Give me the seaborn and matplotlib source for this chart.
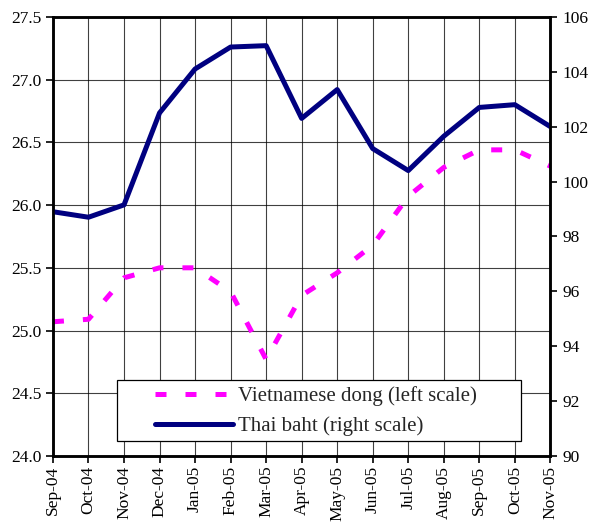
import matplotlib.pyplot as plt
import pandas as pd
import seaborn as sns
from matplotlib.patches import Rectangle

months = ['Sep-04', 'Oct-04', 'Nov-04', 'Dec-04', 'Jan-05', 'Feb-05', 'Mar-05', 'Apr-05',
          'May-05', 'Jun-05', 'Jul-05', 'Aug-05', 'Sep-05', 'Oct-05', 'Nov-05']
dong = [25.07, 25.09, 25.42, 25.50, 25.50, 25.31, 24.77, 25.28,
        25.46, 25.68, 26.07, 26.30, 26.44, 26.44, 26.31]
baht = [98.9, 98.7, 99.15, 102.5, 104.1, 104.9, 104.95, 102.3,
        103.35, 101.2, 100.4, 101.65, 102.7, 102.8, 102.0]

df = pd.DataFrame({'pos': range(len(months)), 'month': months, 'dong': dong, 'baht': baht})

sns.set_style("white")
plt.rcParams['font.family'] = ['Liberation Serif', 'DejaVu Serif']
plt.rcParams['font.size'] = 12

fig, ax = plt.subplots(figsize=(5.95, 5.26), dpi=100)
fig.subplots_adjust(left=0.089, right=0.925, top=0.968, bottom=0.133)
ax2 = ax.twinx()

sns.lineplot(data=df, x='pos', y='dong', ax=ax, color='#FF00FF', linewidth=3.6,
             dashes=False, label='Vietnamese dong (left scale)', legend=False)
ax.lines[0].set_dashes((2.2, 3.8))
sns.lineplot(data=df, x='pos', y='baht', ax=ax2, color='#000080', linewidth=3.6,
             label='Thai baht (right scale)', legend=False)

ax.set_xlim(0, len(months) - 1)
ax.set_ylim(24.0, 27.5)
ax.set_yticks([24.0 + 0.5 * i for i in range(8)])
ax.set_yticklabels([f'{24.0 + 0.5 * i:.1f}' for i in range(8)])
ax2.set_ylim(90, 106)
ax2.set_yticks(range(90, 107, 2))

ax.set_xticks(range(len(months)))
ax.set_xticklabels(months, rotation=90)
ax.set_xlabel('')
ax.set_ylabel('')
ax2.set_ylabel('')

ax.grid(True, color='black', linewidth=0.8, alpha=0.75)
ax2.grid(False)
ax.set_axisbelow(True)

for a in (ax, ax2):
    for s in a.spines.values():
        s.set_linewidth(1.8)
        s.set_color('black')
    a.tick_params(direction='out', length=5, width=1.2, colors='black', labelsize=12.5)

ax.tick_params(axis='y', left=True)
ax.tick_params(axis='x', bottom=True, pad=2)
ax2.tick_params(axis='y', right=True)

# legend box
box = Rectangle((0.129, 0.034), 0.811, 0.139, transform=ax2.transAxes,
                facecolor='white', edgecolor='black', linewidth=0.9, zorder=5)
ax2.add_patch(box)

handles = ax.get_lines()[:1] + ax2.get_lines()[:1]
leg = ax2.legend(handles, [h.get_label() for h in handles],
                 loc='center left', bbox_to_anchor=(0.205, 0.1025),
                 fontsize=15, frameon=False, borderpad=0, borderaxespad=0,
                 handlelength=3.75, handletextpad=0.25, labelspacing=0.5)
leg.set_zorder(6)

plt.savefig('out.png', dpi=100)
